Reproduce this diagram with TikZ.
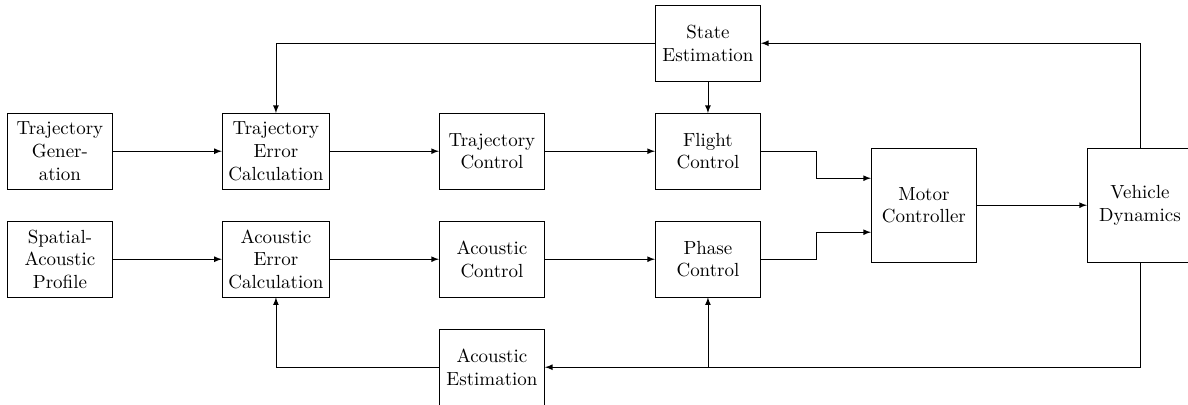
\documentclass[tikz,border=0pt]{standalone}
\usetikzlibrary{calc}

\begin{document}
\begin{tikzpicture}[
        block/.style={draw, align=center, minimum width=1.95cm, minimum height=1.4cm},
        tallblock/.style={block, minimum height=2.1cm},
        arr/.style={-latex}]
        \useasboundingbox (-1.11,-4.69) rectangle (20.89,2.80);%

        \def\dx{4} \def\dy{2}%

        % trajectory row
        \foreach \nm/\col/\txt in {tgen/0/{Trajectory\\Gener-\\ation},
            terr/1/{Trajectory\\Error\\Calculation}, tctl/2/{Trajectory\\Control},
            fctl/3/{Flight\\Control}}%
          \node[block] (\nm) at (\col*\dx,0) {\txt};%

        % acoustic row
        \foreach \nm/\col/\txt in {sprof/0/{Spatial-\\Acoustic\\Profile},
            aerr/1/{Acoustic\\Error\\Calculation}, actl/2/{Acoustic\\Control},
            pctl/3/{Phase\\Control}}%
          \node[block] (\nm) at (\col*\dx,-\dy) {\txt};%

        \node[block] (sest) at (3*\dx,\dy) {State\\Estimation};%
        \node[block] (aest) at (2*\dx,-2*\dy) {Acoustic\\Estimation};%
        \node[tallblock] (motor) at (4*\dx,-\dy/2) {Motor\\Controller};%
        \node[tallblock] (veh) at (5*\dx,-\dy/2) {Vehicle\\Dynamics};%

        % forward paths
        \draw[arr] (tgen) -- (terr);%
        \draw[arr] (terr) -- (tctl);%
        \draw[arr] (tctl) -- (fctl);%
        \draw[arr] (sprof) -- (aerr);%
        \draw[arr] (aerr) -- (actl);%
        \draw[arr] (actl) -- (pctl);%
        \draw[arr] (fctl.east) -- ++(1.03,0) |- ([yshift=5mm]motor.west);%
        \draw[arr] (pctl.east) -- ++(1.03,0) |- ([yshift=-5mm]motor.west);%
        \draw[arr] (motor) -- (veh);%

        % feedback paths
        \draw[arr] (veh.north) |- (sest.east);%
        \draw[arr] (sest.west) -| (terr.north);%
        \draw[arr] (sest) -- (fctl);%
        \draw[arr] (veh.south) |- (aest.east);%
        \draw[arr] (aest.west) -| (aerr.south);%
        \draw[arr] (aest.east -| pctl) -- (pctl.south);%
\end{tikzpicture}
\end{document}
